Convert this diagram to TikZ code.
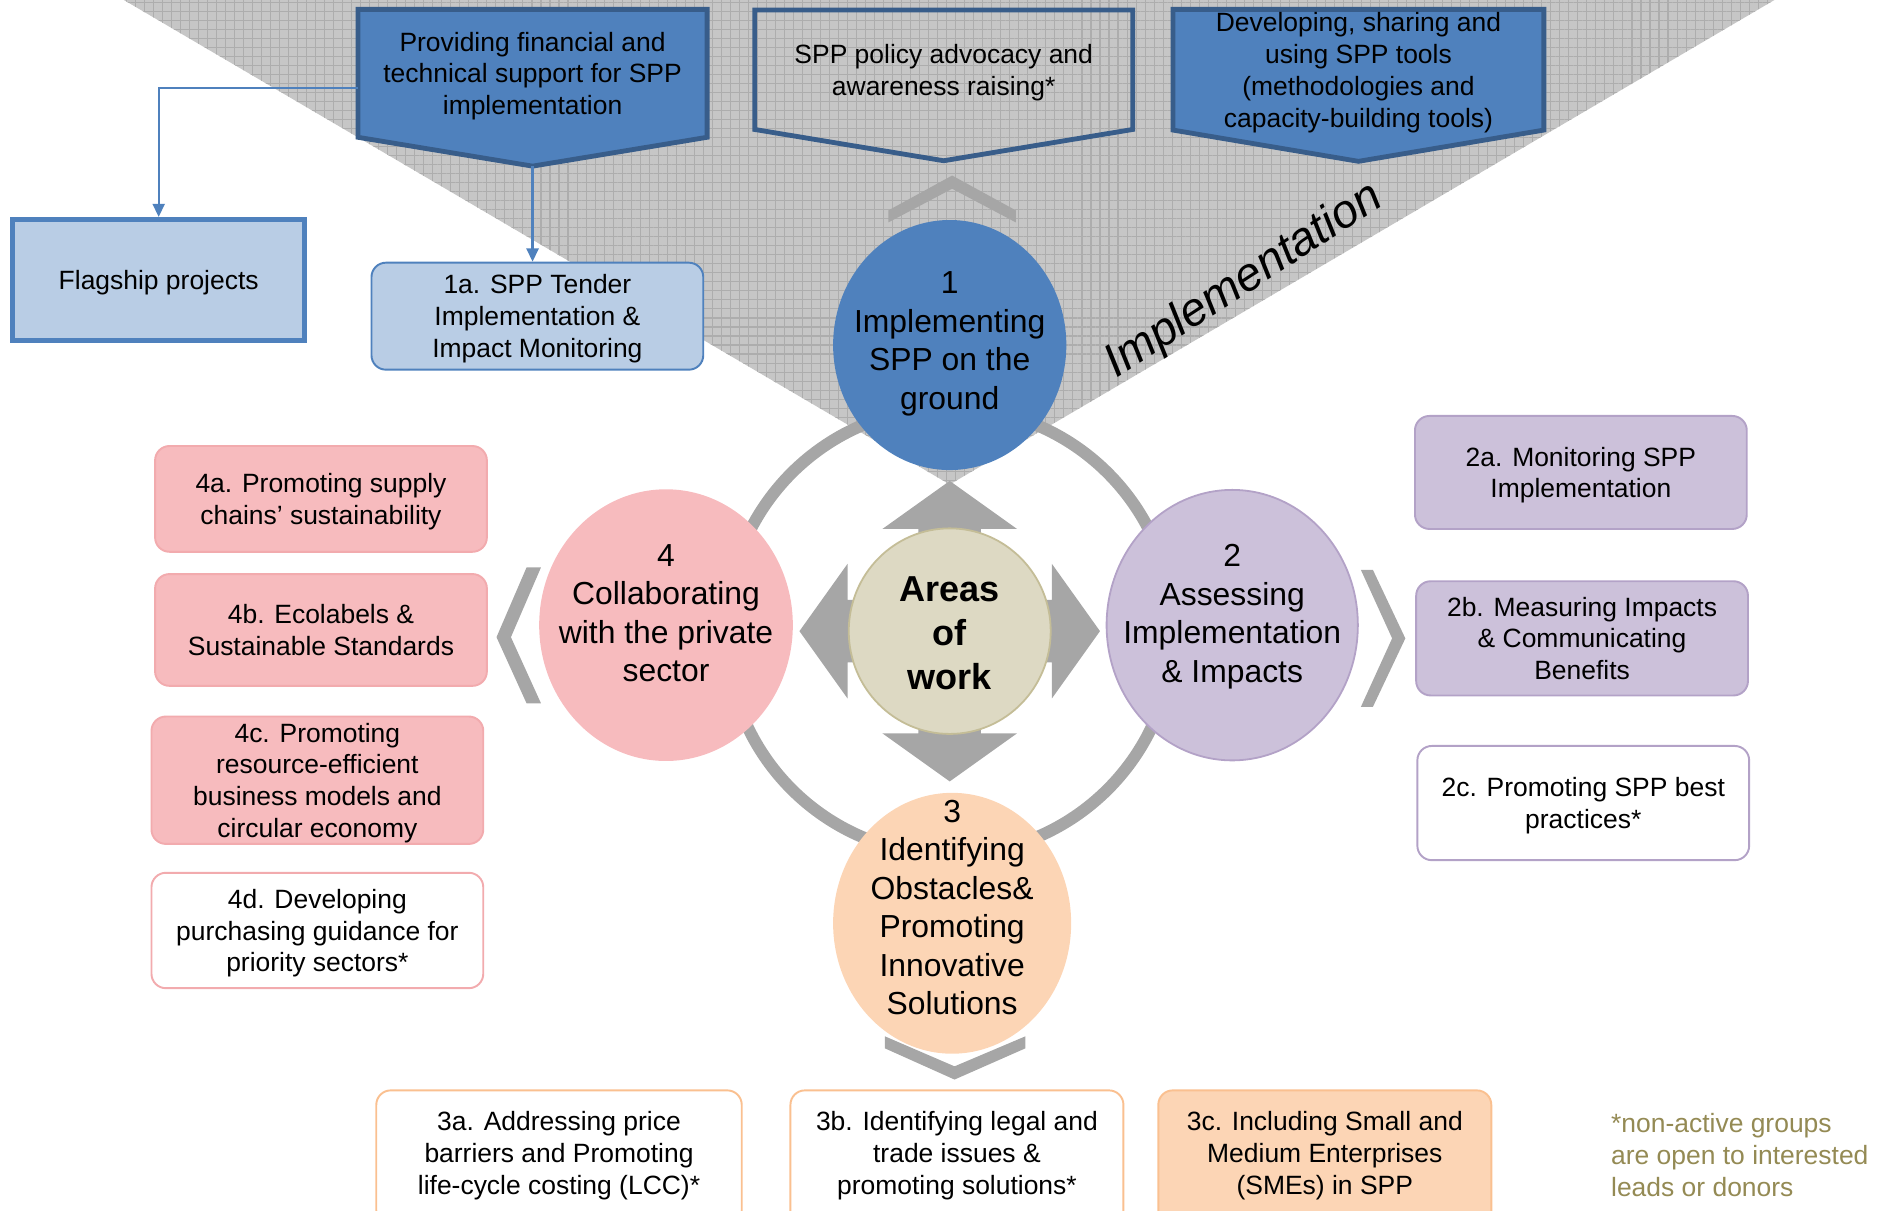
\documentclass[tikz,border=0pt]{standalone}
\usepackage{fontspec}
\setmainfont{Liberation Sans}
\usepackage{tikz}
\usetikzlibrary{positioning,arrows.meta,calc,shapes.geometric,patterns.meta,backgrounds}

\definecolor{wedgegray}{HTML}{C6C6C6}
\definecolor{gridgray}{HTML}{ADADAD}
\definecolor{arrowgray}{HTML}{A6A6A6}
\definecolor{spblue}{HTML}{4F81BD}
\definecolor{spdark}{HTML}{385D8A}
\definecolor{splight}{HTML}{B9CDE5}
\definecolor{sppink}{HTML}{F7BBBE}
\definecolor{sppinkline}{HTML}{F2ABAE}
\definecolor{sppurple}{HTML}{CCC1DA}
\definecolor{sppurpleline}{HTML}{B3A2C7}
\definecolor{sporange}{HTML}{FCD5B5}
\definecolor{sporangeline}{HTML}{FAC090}
\definecolor{spbeige}{HTML}{DDD9C3}
\definecolor{spbeigeline}{HTML}{C4BD97}
\definecolor{spolive}{HTML}{948A54}

\tikzset{
  boxfont/.style={font=\fontsize{22}{26.5}\selectfont},
  wedge/.style={preaction={fill=wedgegray},
    pattern={Hatch[distance=7.5pt,angle=0,line width=0.9pt]},pattern color=gridgray},
  topbox/.style={boxfont,align=center,inner sep=0pt,text depth=-4pt},
  topline/.style={draw=spdark,line width=4pt},
  subbox/.style={boxfont,align=center,rounded corners=12pt,line width=1.6pt,
    minimum width=276pt,inner sep=2pt,text depth=-4pt},
  bluebox/.style={subbox,draw=spblue,fill=splight},
  pinkbox/.style={subbox,draw=sppinkline,fill=sppink},
  pinkopen/.style={subbox,draw=sppinkline,fill=white},
  purplebox/.style={subbox,draw=sppurpleline,fill=sppurple},
  purpleopen/.style={subbox,draw=sppurpleline,fill=white},
  orangebox/.style={subbox,draw=sporangeline,fill=sporange,text depth=8pt},
  orangeopen/.style={subbox,draw=sporangeline,fill=white,text depth=8pt},
  areacirc/.style={ellipse,inner sep=0pt,line width=1.5pt},
  areatxt/.style={font=\fontsize{26.5}{32}\selectfont,align=center,inner sep=0pt},
  chev/.style={fill=arrowgray},
  flow/.style={-{Triangle[length=11pt,width=10pt]},draw=spblue,line width=1.8pt},
}

\begin{document}
\begin{tikzpicture}[x=1pt,y=-1pt]
  \useasboundingbox (0,0) rectangle (1568,1007);

  % top row of the implementation wedge
  \node[topbox,minimum width=290pt,minimum height=106pt] (boxA) at (443,61)
    {Providing financial and\\technical support for SPP\\implementation};
  \node[topbox,minimum width=314pt,minimum height=99pt] (boxB) at (785,58)
    {SPP policy advocacy and\\awareness raising*};
  \node[topbox,minimum width=308pt,minimum height=100pt] (boxC) at (1130,58)
    {Developing, sharing and\\using SPP tools\\(methodologies and\\capacity-building tools)};

  \begin{scope}[on background layer]
    \fill[wedge] (103,0) -- (1476,0) -- (790,403) -- cycle;
    \draw[topline,fill=spblue] (boxA.north west) -- (boxA.north east) -- (boxA.south east)
      -- ($(boxA.south)+(0,24)$) coordinate (tipA) -- (boxA.south west) -- cycle;
    \draw[topline] (boxB.north west) -- (boxB.north east) -- (boxB.south east)
      -- ($(boxB.south)+(0,26)$) coordinate (tipB) -- (boxB.south west) -- cycle;
    \draw[topline,fill=spblue] (boxC.north west) -- (boxC.north east) -- (boxC.south east)
      -- ($(boxC.south)+(0,26)$) coordinate (tipC) -- (boxC.south west) -- cycle;
  \end{scope}

  \node[rotate=33,font=\fontsize{39}{46}\selectfont\itshape] (impl) at (1035,234) {Implementation};

  % ring and arrows round the centre
  \draw[arrowgray,line width=10pt] (790,525) circle[radius=186pt];
  \begin{scope}[shift={(790,525)}]
    \foreach \r in {0,90,180,270}
      \fill[chev,rotate=\r] (-26,0) -- (-26,85) -- (-56,85) -- (0,125) -- (56,85)
        -- (26,85) -- (26,0) -- cycle;
  \end{scope}
  \fill[chev] (739,175) -- (792,146) -- (845,175) -- (845,185) -- (792,157) -- (739,185) -- cycle;
  \fill[chev] (736,862) -- (794,887) -- (853,862) -- (853,872) -- (794,898) -- (736,872) -- cycle;
  \fill[chev] (438,472) -- (450,472) -- (425,530) -- (450,585) -- (438,585) -- (413,530) -- cycle;
  \fill[chev] (1132,474) -- (1142,474) -- (1169,531) -- (1142,588) -- (1132,588) -- (1158,531) -- cycle;

  % areas of work
  \node[areacirc,fill=spbeige,draw=spbeigeline,minimum width=168pt,minimum height=171pt] (cw) at (790,525) {};
  \node[font=\fontsize{30}{36.5}\selectfont\bfseries,align=center,inner sep=0pt] (cwtxt) at (790,527) {Areas\\of\\work};
  \node[areacirc,fill=spblue,minimum width=194pt,minimum height=208pt] (c1) at (790,287) {};
  \node[areatxt] (c1txt) at (790,286) {1\\Implementing\\SPP on the\\ground};
  \node[areacirc,fill=sppurple,draw=sppurpleline,minimum width=209pt,minimum height=225pt] (c2) at (1025,520) {};
  \node[areatxt] (c2txt) at (1025,513) {2\\Assessing\\Implementation\\\& Impacts};
  \node[areacirc,fill=sporange,minimum width=198pt,minimum height=217pt] (c3) at (792,768) {};
  \node[areatxt] (c3txt) at (792,755) {3\\Identifying\\Obstacles\&\\Promoting\\Innovative\\Solutions};
  \node[areacirc,fill=sppink,minimum width=211pt,minimum height=226pt] (c4) at (554,520) {};
  \node[areatxt] (c4txt) at (554,510) {4\\Collaborating\\with the private\\sector};

  % group boxes
  \node[boxfont,align=center,draw=spblue,line width=4pt,fill=splight,text depth=-4pt,
    minimum width=243pt,minimum height=101pt] (flag) at (132,233) {Flagship projects};
  \node[bluebox,minimum height=89pt] (t1a) at (447,263) {1a. SPP Tender\\Implementation \&\\Impact Monitoring};

  \node[pinkbox,minimum height=88pt] (t4a) at (267,415) {4a. Promoting supply\\chains' sustainability};
  \node[pinkbox,minimum height=93pt] (t4b) at (267,524) {4b. Ecolabels \&\\Sustainable Standards};
  \node[pinkbox,minimum height=106pt] (t4c) at (264,649) {4c. Promoting\\resource-efficient\\business models and\\circular economy};
  \node[pinkopen,minimum height=96pt] (t4d) at (264,774) {4d. Developing\\purchasing guidance for\\priority sectors*};

  \node[purplebox,minimum height=94pt] (t2a) at (1315,393) {2a. Monitoring SPP\\Implementation};
  \node[purplebox,minimum height=95pt] (t2b) at (1316,531) {2b. Measuring Impacts\\\& Communicating\\Benefits};
  \node[purpleopen,minimum height=95pt] (t2c) at (1317,668) {2c. Promoting SPP best\\practices*};

  \node[orangeopen,minimum width=304pt,minimum height=112pt] (t3a) at (465,963) {3a. Addressing price\\barriers and Promoting\\life-cycle costing (LCC)*};
  \node[orangeopen,minimum width=277pt,minimum height=112pt] (t3b) at (796,963) {3b. Identifying legal and\\trade issues \&\\promoting solutions*};
  \node[orangebox,minimum width=277pt,minimum height=112pt] (t3c) at (1102,963) {3c. Including Small and\\Medium Enterprises\\(SMEs) in SPP};

  \node[boxfont,text=spolive,align=left,anchor=west,inner sep=0pt] (note) at (1340,961)
    {*non-active groups\\are open to interested\\leads or donors};

  \draw[flow] ([yshift=-12pt]boxA.west) -| (flag.north);
  \draw[flow] (tipA) -- (tipA |- t1a.north);
\end{tikzpicture}
\end{document}
